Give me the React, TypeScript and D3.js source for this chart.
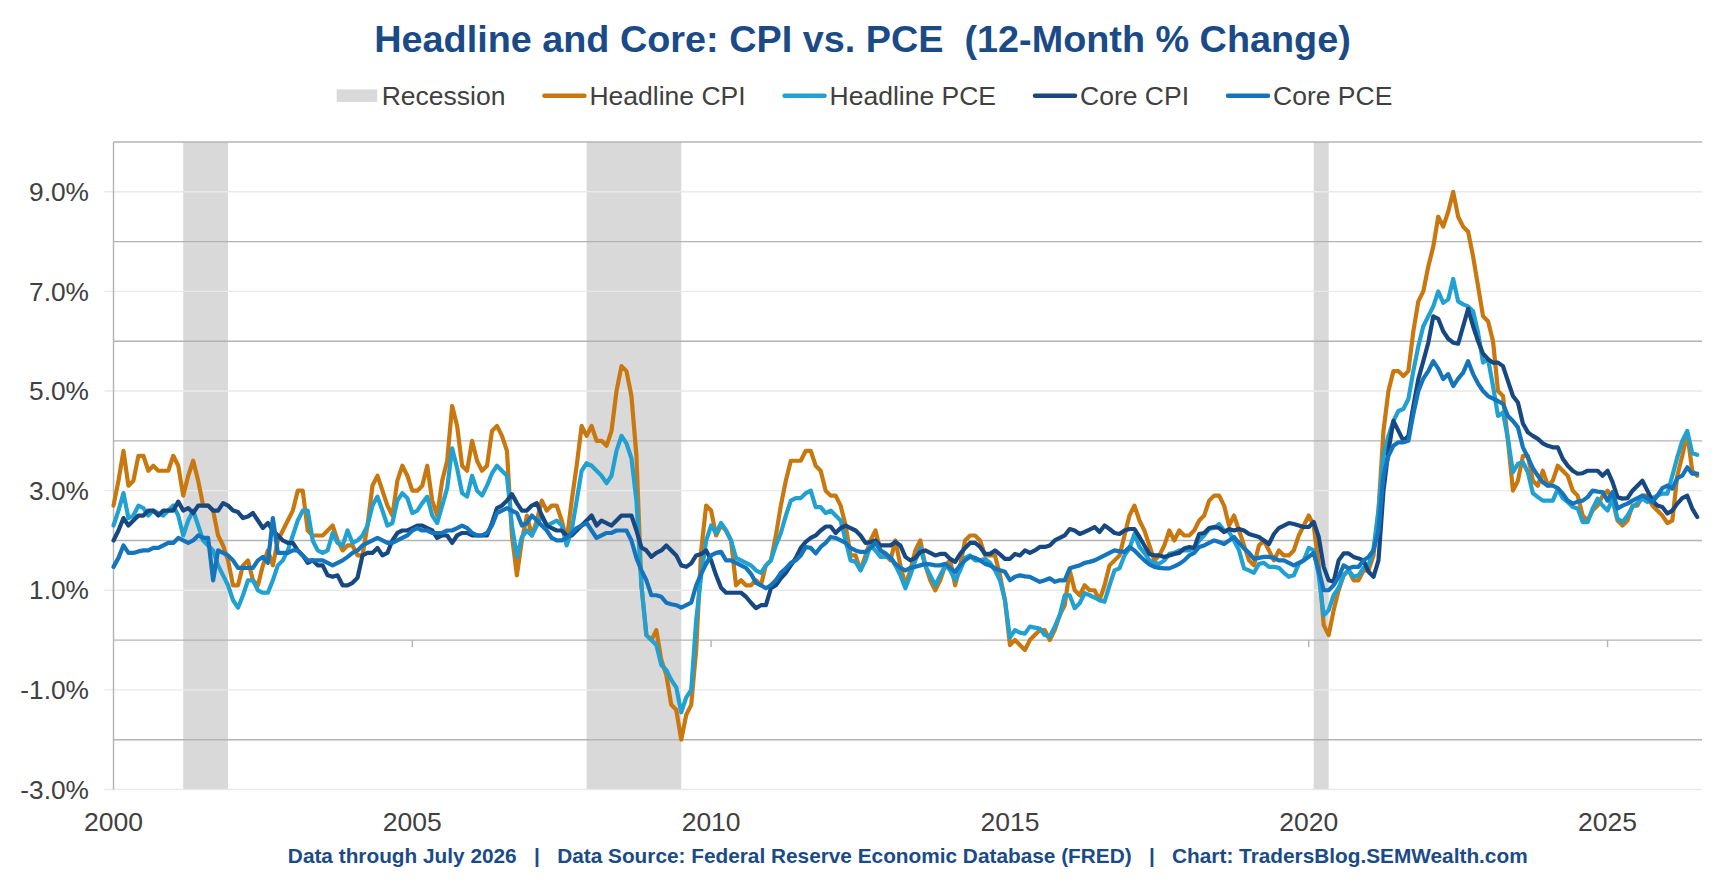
import { useRef, useEffect } from "react";
import * as d3 from "d3";

// monthly 12-month % change, Jan 2000 .. Jul 2026
const START_YEAR = 2000;

const headlineCpi = [
  2.7, 3.2, 3.8, 3.1, 3.2, 3.7, 3.7, 3.4, 3.5, 3.4, 3.4, 3.4, // 2000
  3.7, 3.5, 2.9, 3.3, 3.6, 3.2, 2.7, 2.7, 2.6, 2.1, 1.9, 1.6, // 2001
  1.1, 1.1, 1.5, 1.6, 1.2, 1.1, 1.5, 1.8, 1.5, 2.0, 2.2, 2.4, // 2002
  2.6, 3.0, 3.0, 2.2, 2.1, 2.1, 2.1, 2.2, 2.3, 2.0, 1.8, 1.9, // 2003
  1.9, 1.7, 1.7, 2.3, 3.1, 3.3, 3.0, 2.7, 2.5, 3.2, 3.5, 3.3, // 2004
  3.0, 3.0, 3.1, 3.5, 2.8, 2.5, 3.2, 3.6, 4.7, 4.3, 3.5, 3.4, // 2005
  4.0, 3.6, 3.4, 3.5, 4.2, 4.3, 4.1, 3.8, 2.1, 1.3, 2.0, 2.5, // 2006
  2.1, 2.4, 2.8, 2.6, 2.7, 2.7, 2.4, 2.0, 2.8, 3.5, 4.3, 4.1, // 2007
  4.3, 4.0, 4.0, 3.9, 4.2, 5.0, 5.5, 5.4, 4.9, 3.7, 1.1, 0.1, // 2008
  0.0, 0.2, -0.4, -0.7, -1.3, -1.4, -2.0, -1.5, -1.3, -0.2, 1.8, 2.7, // 2009
  2.6, 2.1, 2.3, 2.2, 2.0, 1.1, 1.2, 1.1, 1.1, 1.2, 1.1, 1.5, // 2010
  1.6, 2.1, 2.7, 3.2, 3.6, 3.6, 3.6, 3.8, 3.8, 3.5, 3.4, 3.0, // 2011
  2.9, 2.9, 2.7, 2.3, 1.7, 1.7, 1.4, 1.7, 2.0, 2.2, 1.8, 1.7, // 2012
  1.6, 2.0, 1.5, 1.1, 1.4, 1.8, 2.0, 1.5, 1.2, 1.0, 1.2, 1.5, // 2013
  1.6, 1.1, 1.5, 2.0, 2.1, 2.1, 2.0, 1.7, 1.7, 1.7, 1.3, 0.8, // 2014
  -0.1, 0.0, -0.1, -0.2, 0.0, 0.1, 0.2, 0.2, 0.0, 0.2, 0.5, 0.7, // 2015
  1.4, 1.0, 0.9, 1.1, 1.0, 1.0, 0.8, 1.1, 1.5, 1.6, 1.7, 2.1, // 2016
  2.5, 2.7, 2.4, 2.2, 1.9, 1.6, 1.7, 1.9, 2.2, 2.0, 2.2, 2.1, // 2017
  2.1, 2.2, 2.4, 2.5, 2.8, 2.9, 2.9, 2.7, 2.3, 2.5, 2.2, 1.9, // 2018
  1.6, 1.5, 1.9, 2.0, 1.8, 1.6, 1.8, 1.7, 1.7, 1.8, 2.1, 2.3, // 2019
  2.5, 2.3, 1.5, 0.3, 0.1, 0.6, 1.0, 1.3, 1.4, 1.2, 1.2, 1.4, // 2020
  1.4, 1.7, 2.6, 4.2, 5.0, 5.4, 5.4, 5.3, 5.4, 6.2, 6.8, 7.0, // 2021
  7.5, 7.9, 8.5, 8.3, 8.6, 9.0, 8.5, 8.3, 8.2, 7.7, 7.1, 6.5, // 2022
  6.4, 6.0, 5.0, 4.9, 4.0, 3.0, 3.2, 3.7, 3.7, 3.2, 3.1, 3.4, // 2023
  3.1, 3.2, 3.5, 3.4, 3.3, 3.0, 2.9, 2.5, 2.4, 2.6, 2.7, 2.9, // 2024
  3.0, 2.8, 2.4, 2.3, 2.4, 2.7, 2.7, 2.9, 2.9, 2.7, 2.6, 2.5, // 2025
  2.35, 2.4, 3.3, 3.7, 4.15, 3.4, 3.3, // 2026
];

const headlinePce = [
  2.3, 2.6, 2.95, 2.45, 2.5, 2.7, 2.65, 2.5, 2.6, 2.55, 2.5, 2.6, // 2000
  2.7, 2.5, 2.1, 2.4, 2.6, 2.3, 2.0, 1.9, 1.8, 1.5, 1.3, 1.1, // 2001
  0.8, 0.65, 0.9, 1.2, 1.2, 1.0, 0.95, 0.95, 1.2, 1.5, 1.6, 1.8, // 2002
  2.1, 2.4, 2.6, 2.6, 2.0, 1.8, 1.75, 1.8, 2.15, 1.95, 1.9, 2.2, // 2003
  1.95, 2.0, 2.1, 2.3, 2.7, 2.88, 2.6, 2.3, 2.35, 2.8, 2.95, 2.85, // 2004
  2.55, 2.6, 2.75, 2.88, 2.5, 2.35, 2.7, 3.05, 3.85, 3.45, 2.95, 2.88, // 2005
  3.3, 3.0, 2.9, 3.1, 3.35, 3.5, 3.4, 3.3, 2.3, 1.67, 2.07, 2.2, // 2006
  2.1, 2.3, 2.5, 2.3, 2.35, 2.4, 2.3, 1.9, 2.2, 2.8, 3.4, 3.55, // 2007
  3.5, 3.4, 3.3, 3.15, 3.3, 3.8, 4.1, 3.95, 3.65, 2.8, 1.1, 0.1, // 2008
  0.0, -0.1, -0.5, -0.6, -0.8, -0.95, -1.45, -1.15, -1.0, 0.4, 1.3, 2.0, // 2009
  2.3, 2.15, 2.35, 2.2, 2.0, 1.65, 1.6, 1.55, 1.5, 1.4, 1.35, 1.5, // 2010
  1.6, 1.9, 2.15, 2.5, 2.8, 2.85, 2.85, 2.95, 3.0, 2.67, 2.67, 2.55, // 2011
  2.6, 2.5, 2.4, 2.0, 1.6, 1.57, 1.4, 1.6, 1.9, 1.8, 1.67, 1.67, // 2012
  1.67, 1.5, 1.3, 1.04, 1.3, 1.6, 1.85, 1.5, 1.3, 1.1, 1.3, 1.5, // 2013
  1.4, 1.2, 1.4, 1.65, 1.7, 1.6, 1.6, 1.63, 1.55, 1.4, 1.2, 0.8, // 2014
  0.05, 0.2, 0.15, 0.13, 0.27, 0.25, 0.23, 0.1, 0.07, 0.27, 0.5, 0.9, // 2015
  0.9, 0.64, 0.74, 0.94, 0.9, 0.85, 0.8, 0.77, 1.1, 1.4, 1.44, 1.7, // 2016
  1.84, 2.13, 1.87, 1.75, 1.6, 1.55, 1.53, 1.6, 1.73, 1.75, 1.8, 1.8, // 2017
  1.8, 1.85, 2.0, 2.1, 2.23, 2.25, 2.33, 2.2, 2.17, 2.0, 1.8, 1.44, // 2018
  1.4, 1.35, 1.53, 1.55, 1.47, 1.47, 1.45, 1.35, 1.27, 1.3, 1.53, 1.6, // 2019
  1.85, 1.8, 1.3, 0.5, 0.6, 0.9, 1.05, 1.3, 1.4, 1.27, 1.3, 1.45, // 2020
  1.5, 1.84, 2.6, 3.7, 4.1, 4.4, 4.6, 4.64, 4.84, 5.4, 5.9, 6.3, // 2021
  6.5, 6.7, 7.0, 6.77, 6.84, 7.25, 6.8, 6.74, 6.7, 6.6, 6.17, 5.57, // 2022
  5.64, 5.1, 4.5, 4.57, 4.04, 3.37, 3.54, 3.57, 3.37, 2.95, 2.87, 2.8, // 2023
  2.8, 2.8, 3.03, 2.85, 2.77, 2.67, 2.64, 2.37, 2.37, 2.64, 2.84, 2.7, // 2024
  2.6, 2.84, 2.44, 2.37, 2.5, 2.67, 2.75, 2.84, 2.77, 2.85, 2.9, 2.94, // 2025
  2.94, 3.3, 3.67, 4.0, 4.2, 3.75, 3.72, // 2026
];

const coreCpi = [
  2.0, 2.2, 2.45, 2.3, 2.4, 2.5, 2.5, 2.6, 2.6, 2.5, 2.6, 2.6, // 2000
  2.6, 2.78, 2.6, 2.65, 2.55, 2.7, 2.7, 2.7, 2.6, 2.6, 2.75, 2.7, // 2001
  2.6, 2.57, 2.45, 2.48, 2.55, 2.4, 2.25, 2.35, 2.2, 2.1, 2.0, 1.95, // 2002
  1.95, 1.8, 1.7, 1.55, 1.6, 1.5, 1.5, 1.3, 1.27, 1.3, 1.1, 1.1, // 2003
  1.15, 1.25, 1.7, 1.75, 1.75, 1.85, 1.7, 1.75, 2.0, 2.15, 2.2, 2.2, // 2004
  2.25, 2.3, 2.3, 2.25, 2.2, 2.05, 2.1, 2.1, 1.95, 2.1, 2.15, 2.15, // 2005
  2.1, 2.1, 2.1, 2.1, 2.35, 2.65, 2.7, 2.8, 2.93, 2.75, 2.6, 2.6, // 2006
  2.7, 2.75, 2.5, 2.3, 2.25, 2.2, 2.2, 2.1, 2.1, 2.2, 2.3, 2.4, // 2007
  2.5, 2.3, 2.4, 2.35, 2.3, 2.4, 2.5, 2.5, 2.5, 2.2, 1.86, 1.8, // 2008
  1.67, 1.75, 1.8, 1.9, 1.8, 1.7, 1.5, 1.47, 1.54, 1.7, 1.73, 1.8, // 2009
  1.6, 1.3, 1.05, 0.95, 0.95, 0.95, 0.95, 0.87, 0.75, 0.64, 0.7, 0.7, // 2010
  1.04, 1.1, 1.24, 1.35, 1.5, 1.65, 1.85, 1.97, 2.05, 2.1, 2.2, 2.28, // 2011
  2.28, 2.15, 2.25, 2.3, 2.25, 2.2, 2.1, 1.95, 1.97, 2.0, 1.9, 1.9, // 2012
  1.9, 1.97, 1.9, 1.67, 1.6, 1.65, 1.77, 1.8, 1.75, 1.7, 1.73, 1.73, // 2013
  1.63, 1.57, 1.73, 1.85, 1.95, 1.95, 1.87, 1.73, 1.73, 1.8, 1.72, 1.63, // 2014
  1.63, 1.73, 1.7, 1.8, 1.75, 1.8, 1.87, 1.87, 1.9, 2.0, 2.05, 2.1, // 2015
  2.23, 2.2, 2.13, 2.17, 2.22, 2.27, 2.17, 2.3, 2.23, 2.15, 2.13, 2.2, // 2016
  2.23, 2.23, 2.07, 1.9, 1.73, 1.7, 1.7, 1.67, 1.7, 1.73, 1.75, 1.84, // 2017
  1.87, 1.85, 2.13, 2.15, 2.25, 2.27, 2.25, 2.17, 2.23, 2.2, 2.23, 2.2, // 2018
  2.13, 2.1, 2.07, 2.0, 1.93, 2.13, 2.25, 2.3, 2.35, 2.33, 2.3, 2.27, // 2019
  2.27, 2.37, 2.07, 1.47, 1.2, 1.17, 1.6, 1.74, 1.74, 1.67, 1.64, 1.6, // 2020
  1.37, 1.27, 1.6, 3.0, 3.8, 4.4, 4.2, 4.0, 4.1, 4.7, 5.24, 5.6, // 2021
  5.97, 6.5, 6.45, 6.2, 6.05, 5.97, 5.95, 6.3, 6.65, 6.3, 6.0, 5.75, // 2022
  5.64, 5.57, 5.57, 5.5, 5.2, 4.9, 4.77, 4.35, 4.17, 4.1, 4.04, 3.95, // 2023
  3.9, 3.87, 3.87, 3.64, 3.5, 3.4, 3.34, 3.35, 3.4, 3.4, 3.4, 3.3, // 2024
  3.4, 3.17, 2.87, 2.84, 2.85, 3.0, 3.1, 3.2, 3.0, 2.8, 2.7, 2.67, // 2025
  2.54, 2.6, 2.74, 2.85, 2.9, 2.64, 2.47, // 2026
];

const corePce = [
  1.47, 1.65, 1.9, 1.75, 1.75, 1.78, 1.8, 1.8, 1.85, 1.85, 1.9, 1.95, // 2000
  1.95, 2.05, 2.0, 1.95, 2.0, 2.1, 2.05, 2.05, 1.2, 1.8, 1.75, 1.7, // 2001
  1.6, 1.45, 1.45, 1.45, 1.45, 1.6, 1.67, 1.55, 2.45, 1.75, 1.75, 1.75, // 2002
  1.8, 1.8, 1.7, 1.6, 1.6, 1.6, 1.6, 1.55, 1.5, 1.55, 1.6, 1.67, // 2003
  1.75, 1.8, 1.9, 1.95, 2.0, 2.05, 2.0, 1.95, 1.95, 2.0, 2.05, 2.1, // 2004
  2.2, 2.25, 2.2, 2.2, 2.15, 2.15, 2.15, 2.2, 2.2, 2.25, 2.3, 2.25, // 2005
  2.15, 2.1, 2.1, 2.15, 2.3, 2.55, 2.6, 2.65, 2.6, 2.55, 2.3, 2.35, // 2006
  2.5, 2.4, 2.3, 2.2, 2.05, 2.0, 2.0, 2.05, 2.15, 2.25, 2.3, 2.35, // 2007
  2.2, 2.05, 2.1, 2.15, 2.15, 2.2, 2.2, 2.2, 2.0, 1.65, 1.4, 1.2, // 2008
  0.9, 0.9, 0.87, 0.75, 0.72, 0.7, 0.65, 0.7, 0.75, 1.1, 1.33, 1.53, // 2009
  1.7, 1.75, 1.77, 1.6, 1.6, 1.55, 1.5, 1.45, 1.33, 1.15, 1.1, 1.04, // 2010
  1.1, 1.2, 1.35, 1.44, 1.55, 1.6, 1.7, 1.87, 1.85, 1.74, 1.87, 1.95, // 2011
  2.07, 2.05, 2.0, 1.95, 1.85, 1.8, 1.77, 1.77, 1.85, 1.95, 1.8, 1.74, // 2012
  1.65, 1.53, 1.45, 1.4, 1.45, 1.47, 1.5, 1.53, 1.52, 1.5, 1.5, 1.53, // 2013
  1.45, 1.37, 1.5, 1.6, 1.67, 1.65, 1.6, 1.53, 1.5, 1.44, 1.4, 1.37, // 2014
  1.2, 1.27, 1.3, 1.28, 1.27, 1.22, 1.17, 1.2, 1.24, 1.17, 1.2, 1.2, // 2015
  1.44, 1.47, 1.5, 1.55, 1.57, 1.6, 1.65, 1.7, 1.75, 1.8, 1.78, 1.77, // 2016
  1.87, 1.8, 1.7, 1.6, 1.52, 1.47, 1.45, 1.44, 1.44, 1.48, 1.53, 1.6, // 2017
  1.7, 1.75, 1.87, 1.9, 1.95, 2.0, 1.97, 1.93, 2.0, 2.07, 1.95, 1.84, // 2018
  1.75, 1.63, 1.65, 1.67, 1.67, 1.65, 1.6, 1.6, 1.55, 1.5, 1.55, 1.6, // 2019
  1.67, 1.75, 1.4, 1.0, 1.0, 1.1, 1.27, 1.5, 1.44, 1.47, 1.47, 1.6, // 2020
  1.67, 1.8, 2.2, 3.3, 3.7, 3.9, 3.97, 3.97, 4.0, 4.54, 5.0, 5.25, // 2021
  5.4, 5.6, 5.45, 5.24, 5.34, 5.1, 5.25, 5.37, 5.6, 5.34, 5.15, 5.0, // 2022
  4.9, 4.85, 4.8, 4.74, 4.5, 4.4, 4.27, 3.87, 3.67, 3.45, 3.3, 3.17, // 2023
  3.1, 3.1, 3.05, 2.94, 2.8, 2.74, 2.78, 2.8, 2.87, 3.0, 2.98, 2.97, // 2024
  2.8, 2.97, 2.64, 2.7, 2.74, 2.8, 2.85, 2.9, 2.85, 2.77, 2.9, 3.05, // 2025
  3.1, 3.04, 3.25, 3.3, 3.47, 3.34, 3.34, // 2026
];

const seriesNames = ["Headline CPI", "Headline PCE", "Core CPI", "Core PCE"];
const seriesValues = [headlineCpi, headlinePce, coreCpi, corePce];
const seriesColors = ["#C8780F", "#21A0D2", "#174882", "#1575BC"];

const recessionStarts = ["2001-03", "2007-12", "2020-02"];
const recessionEnds = ["2001-12", "2009-07", "2020-05"];

const labelTicks = [-3, -1, 1, 3, 5, 7, 9];
const evenLines = [-2, 0, 2, 4, 6, 8, 10];
const yearTicks = [2000, 2005, 2010, 2015, 2020, 2025];

const TITLE = "Headline and Core: CPI vs. PCE  (12-Month % Change)";
const FOOTER =
  "Data through July 2026   |   Data Source: Federal Reserve Economic Database (FRED)   |   Chart: TradersBlog.SEMWealth.com";

const W = 1725;
const H = 892;
const FONT = "'Liberation Sans', Arial, Helvetica, sans-serif";
const BLUE = "#1B4B87";
const INK = "#404040";
const MAJOR = "#B3B3B3";
const MINOR = "#E9E9E9";

const toYear = (s: string) => {
  const [y, m] = s.split("-").map(Number);
  return y + (m - 1) / 12;
};

export default function App() {
  const svgRef = useRef<SVGSVGElement>(null);

  useEffect(() => {
    if (!svgRef.current) return;
    const svg = d3.select(svgRef.current);
    svg.selectAll("*").remove();

    const left = 113.5, right = 1702, top = 142, bottom = 789.5;
    const x = d3.scaleLinear().domain([2000, 2026.58]).range([left, right]);
    const y = d3.scaleLinear().domain([-3, 10]).range([bottom, top]);

    svg.append("rect").attr("width", W).attr("height", H).attr("fill", "#fff");

    // recession bands
    svg.append("g")
      .selectAll("rect")
      .data(recessionStarts.map((s, i) => [toYear(s), toYear(recessionEnds[i])]))
      .join("rect")
      .attr("x", (d) => x(d[0])).attr("width", (d) => x(d[1]) - x(d[0]))
      .attr("y", top).attr("height", bottom - top)
      .attr("fill", "#D9D9D9");

    // light gridlines at labelled values, with short outer ticks
    svg.append("g")
      .selectAll("line")
      .data(labelTicks)
      .join("line")
      .attr("x1", left - 9).attr("x2", right)
      .attr("y1", (d) => y(d)).attr("y2", (d) => y(d))
      .attr("stroke", MINOR).attr("stroke-width", 1.4);

    // darker lines at even values
    svg.append("g")
      .selectAll("line")
      .data(evenLines)
      .join("line")
      .attr("x1", left).attr("x2", right)
      .attr("y1", (d) => y(d)).attr("y2", (d) => y(d))
      .attr("stroke", MAJOR).attr("stroke-width", 1.4);

    // left axis line
    svg.append("line")
      .attr("x1", left).attr("x2", left).attr("y1", top).attr("y2", bottom)
      .attr("stroke", MAJOR).attr("stroke-width", 1.4);

    // year ticks hanging from the zero line
    svg.append("g")
      .selectAll("line")
      .data(yearTicks.slice(1))
      .join("line")
      .attr("x1", (d) => x(d)).attr("x2", (d) => x(d))
      .attr("y1", y(0)).attr("y2", y(0) + 7)
      .attr("stroke", MAJOR).attr("stroke-width", 1.4);

    // y labels
    svg.append("g")
      .selectAll("text")
      .data(labelTicks)
      .join("text")
      .attr("x", 89).attr("y", (d) => y(d)).attr("dy", "0.35em")
      .attr("text-anchor", "end")
      .attr("fill", INK).attr("font-family", FONT).attr("font-size", 26.3)
      .text((d) => `${d.toFixed(1)}%`);

    // year labels
    svg.append("g")
      .selectAll("text")
      .data(yearTicks)
      .join("text")
      .attr("x", (d) => x(d)).attr("y", 831)
      .attr("text-anchor", "middle")
      .attr("fill", INK).attr("font-family", FONT).attr("font-size", 26.5)
      .text((d) => String(d));

    // series lines
    const line = d3.line<number>()
      .x((_, i) => x(START_YEAR + i / 12))
      .y((d) => y(d));
    const lines = svg.append("g");
    seriesValues.forEach((vals, i) => {
      lines.append("path").datum(vals).attr("d", line)
        .attr("fill", "none").attr("stroke", seriesColors[i])
        .attr("stroke-width", 4.2).attr("stroke-linejoin", "round").attr("stroke-linecap", "round");
    });

    // title
    svg.append("text")
      .attr("x", W / 2).attr("y", 51.7).attr("text-anchor", "middle")
      .attr("xml:space", "preserve").style("white-space", "pre")
      .attr("fill", BLUE).attr("font-family", FONT).attr("font-size", 37.8).attr("font-weight", "bold")
      .text(TITLE);

    // legend
    const legend = svg.append("g");
    let cx = 0;
    const ly = 95.7;
    const items = ["Recession", ...seriesNames];
    items.forEach((name, i) => {
      if (i === 0) {
        legend.append("rect").attr("x", cx).attr("y", ly - 6.3).attr("width", 40.5).attr("height", 12.5).attr("fill", "#D9D9D9");
        cx += 45;
      } else {
        legend.append("line")
          .attr("x1", cx + 2).attr("x2", cx + 42).attr("y1", ly).attr("y2", ly)
          .attr("stroke", seriesColors[i - 1]).attr("stroke-width", 4.5).attr("stroke-linecap", "round");
        cx += 47;
      }
      const t = legend.append("text")
        .attr("x", cx).attr("y", ly).attr("dy", "0.35em")
        .attr("fill", INK).attr("font-family", FONT).attr("font-size", 26.5)
        .text(name);
      cx += (t.node() as SVGTextElement).getComputedTextLength() + 37;
    });
    legend.attr("transform", `translate(336.7,0)`);

    // footer
    svg.append("text")
      .attr("x", (left + right) / 2).attr("y", 863).attr("text-anchor", "middle")
      .attr("xml:space", "preserve").style("white-space", "pre")
      .attr("fill", BLUE).attr("font-family", FONT).attr("font-size", 20.8).attr("font-weight", "bold")
      .text(FOOTER);
  }, []);

  return (
    <div style={{ position: "absolute", left: 0, top: 0, width: W, height: H, background: "#fff" }}>
      <svg ref={svgRef} width={W} height={H} viewBox={`0 0 ${W} ${H}`} />
    </div>
  );
}
